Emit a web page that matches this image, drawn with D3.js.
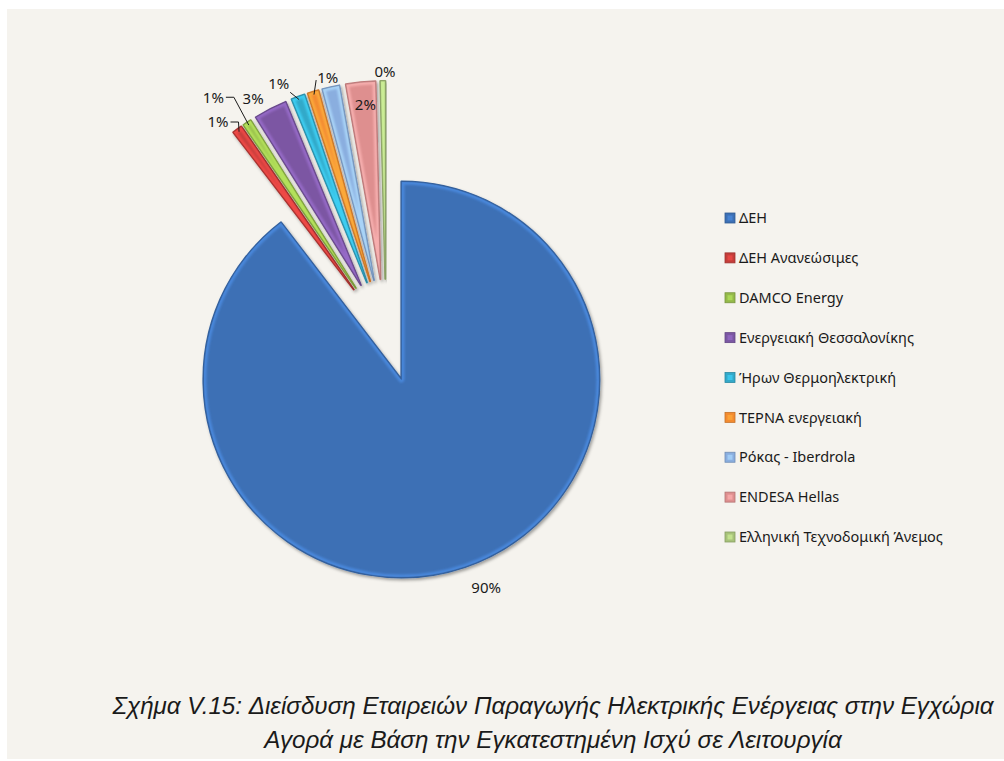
<!DOCTYPE html>
<html>
<head>
<meta charset="utf-8">
<script src="https://cdn.jsdelivr.net/npm/d3@7"></script>
<style>
  body { margin: 0; background: #ffffff; }
  svg { display: block; }
</style>
</head>
<body>
<svg id="chart" width="1004" height="761"></svg>
<script>
// Installed capacity share of electricity producers (%)
const companies = [
  "ΔΕΗ",
  "ΔΕΗ Ανανεώσιμες",
  "DAMCO Energy",
  "Ενεργειακή Θεσσαλονίκης",
  "Ήρων Θερμοηλεκτρική",
  "ΤΕΡΝΑ ενεργειακή",
  "Ρόκας - Iberdrola",
  "ENDESA Hellas",
  "Ελληνική Τεχνοδομική Άνεμος"
];
const shares = [89.6, 0.8, 0.7, 2.7, 1.1, 0.9, 1.4, 2.4, 0.4];
const labelShown = [true, true, true, true, true, true, false, true, true];
const sliceColors = [
  "#3d70b5", "#c43d3a", "#94b94a", "#7b57a3", "#33a9c9",
  "#f38b30", "#8aaedf", "#de8f8f", "#a7c27a"
];
const captionLines = [
  "Σχήμα V.15: Διείσδυση Εταιρειών Παραγωγής Ηλεκτρικής Ενέργειας στην Εγχώρια",
  "Αγορά με Βάση την Εγκατεστημένη Ισχύ σε Λειτουργία"
];

// ---- layout ----
const W = 1004, H = 761;
const cx = 386, cy = 334;      // pie centre before explosion
const R = 198;                 // pie radius
const explodeMain = 48;        // outward offset of the largest slice
const explodeSmall = 55;       // outward offset of the other slices
const explodeOf = i => (i === 0 ? explodeMain : explodeSmall);
// label placement: angle shift (deg) and distance beyond the slice rim, leader style
const labelLayout = [
  { da: -2.8, dr: 27,  leader: null },
  { da: -2.4, dr: 17.5, leader: "elbow" },
  { da: -2.8, dr: 40,  leader: "elbow" },
  { da: -2.3, dr: 17,  leader: null },
  { da: -2.9, dr: 19,  leader: "corner" },
  { da: 3.9,  dr: 9.5, leader: "side" },
  { da: 0,    dr: 12,  leader: null },
  { da: 0.6,  dr: -23, leader: null },
  { da: 0.5,  dr: 9,   leader: null }
];

const svg = d3.select("#chart");
const defs = svg.append("defs");

// page background panel
svg.append("rect")
  .attr("x", 7).attr("y", 9)
  .attr("width", W - 7).attr("height", H - 11)
  .attr("fill", "#f5f3ee");

// soft drop shadow under the slices
const shadow = defs.append("filter").attr("id", "sliceShadow")
  .attr("x", "-20%").attr("y", "-20%").attr("width", "140%").attr("height", "140%");
shadow.append("feDropShadow")
  .attr("dx", 1.5).attr("dy", 2).attr("stdDeviation", 1.6)
  .attr("flood-color", "#000").attr("flood-opacity", 0.35);

const rimBlur = defs.append("filter").attr("id", "rimBlur")
  .attr("x", "-10%").attr("y", "-10%").attr("width", "120%").attr("height", "120%");
rimBlur.append("feGaussianBlur").attr("stdDeviation", 1.3);

const pie = d3.pie().sort(null).value(d => d).startAngle(0).endAngle(2 * Math.PI);
const arcs = pie(shares);
const arc = d3.arc().innerRadius(0).outerRadius(R);

const polar = (angle, r) => [Math.sin(angle) * r, -Math.cos(angle) * r];
const midAngle = d => (d.startAngle + d.endAngle) / 2;

const pieG = svg.append("g").attr("transform", `translate(${cx},${cy})`);

const slices = pieG.selectAll("g.slice")
  .data(arcs)
  .join("g")
  .attr("class", "slice")
  .attr("transform", (d, i) => {
    const [ox, oy] = polar(midAngle(d), explodeOf(i));
    return `translate(${ox},${oy})`;
  });

slices.each(function (d, i) {
  const g = d3.select(this);
  const base = d3.color(sliceColors[i]);
  const path = arc(d);
  const clipId = "clip" + i;
  defs.append("clipPath").attr("id", clipId).append("path").attr("d", path);

  // body, with a bevel-like border that thickens it slightly
  g.append("path")
    .attr("d", path)
    .attr("fill", base.formatHex())
    .attr("stroke", base.darker(0.35).formatHex())
    .attr("stroke-width", 2)
    .attr("stroke-linejoin", "round")
    .attr("filter", "url(#sliceShadow)");

  // bevel: lighter rim inside the edge
  g.append("path")
    .attr("d", path)
    .attr("fill", "none")
    .attr("stroke", base.brighter(0.7).formatHex())
    .attr("stroke-width", 6)
    .attr("stroke-opacity", 0.75)
    .attr("stroke-linejoin", "round")
    .attr("clip-path", `url(#${clipId})`)
    .attr("filter", "url(#rimBlur)");

  // thin darker outline
  g.append("path")
    .attr("d", path)
    .attr("fill", "none")
    .attr("stroke", base.darker(0.8).formatHex())
    .attr("stroke-width", 0.7)
    .attr("stroke-opacity", 0.7);
});

// ---- data labels ----
const pct = v => Math.round(v) + "%";
const labelG = pieG.append("g")
  .attr("font-family", "'Noto Sans', 'DejaVu Sans', sans-serif")
  .attr("font-size", 15)
  .attr("fill", "#1a1a1a");

arcs.forEach((d, i) => {
  if (!labelShown[i]) return;
  const lay = labelLayout[i];
  const mid = midAngle(d);
  const rim = R + explodeOf(i);
  const a = mid + lay.da * Math.PI / 180;
  const [lx, ly] = polar(a, rim + lay.dr);
  const t = labelG.append("text")
    .attr("x", lx).attr("y", ly)
    .attr("text-anchor", "middle")
    .attr("dy", "0.35em")
    .text(pct(d.data));

  if (lay.leader) {
    const bb = t.node().getBBox();
    const [tx, ty] = polar(mid, rim - 3);
    const right = bb.x + bb.width, bottom = bb.y + bb.height;
    let pts;
    if (lay.leader === "elbow") {
      pts = [[right + 2, ly], [right + 10, ly], [tx, ty]];
    } else if (lay.leader === "corner") {
      pts = [[right + 1, bottom - 1], [tx, ty]];
    } else {
      pts = [[bb.x - 1, ly + 2], [tx, ty]];
    }
    labelG.append("path")
      .attr("d", d3.line()(pts))
      .attr("fill", "none")
      .attr("stroke", "#1a1a1a")
      .attr("stroke-width", 1);
  }
});

// ---- legend ----
const legendY = d3.scalePoint().domain(d3.range(companies.length)).range([218, 537]);
const legend = svg.append("g")
  .attr("font-family", "'Noto Sans', 'DejaVu Sans', sans-serif")
  .attr("font-size", 14.5)
  .attr("fill", "#1a1a1a");

companies.forEach((name, i) => {
  const y = legendY(i);
  const c = d3.color(sliceColors[i]);
  legend.append("rect")
    .attr("x", 725).attr("y", y - 5)
    .attr("width", 10).attr("height", 10)
    .attr("fill", c.formatHex())
    .attr("stroke", c.darker(0.6).formatHex())
    .attr("stroke-width", 0.8);
  legend.append("rect")
    .attr("x", 727.5).attr("y", y - 2.5)
    .attr("width", 5).attr("height", 5)
    .attr("fill", c.brighter(0.6).formatHex())
    .attr("opacity", 0.7);
  legend.append("text")
    .attr("x", 739).attr("y", y)
    .attr("dy", "0.36em")
    .text(name);
});

// ---- caption ----
svg.append("g")
  .attr("font-family", "'Liberation Sans', Arial, sans-serif")
  .attr("font-style", "italic")
  .attr("font-size", 24.2)
  .attr("fill", "#1a1a1a")
  .attr("text-anchor", "middle")
  .selectAll("text")
  .data(captionLines)
  .join("text")
  .attr("x", 553)
  .attr("y", (d, i) => 714 + i * 34)
  .text(d => d);
</script>
</body>
</html>
